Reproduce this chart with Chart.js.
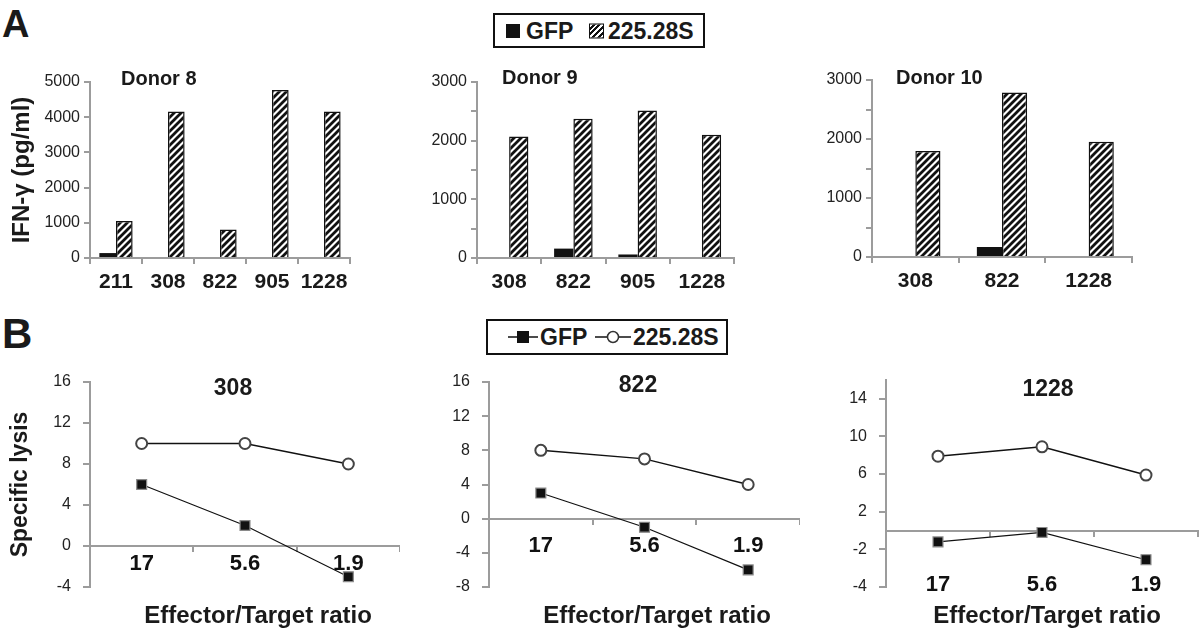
<!DOCTYPE html>
<html>
<head>
<meta charset="utf-8">
<script src="https://cdn.jsdelivr.net/npm/chart.js@4.4.0/dist/chart.umd.min.js"></script>
<style>
  html,body{margin:0;padding:0;background:#fff;}
  #wrap{position:relative;width:1200px;height:629px;overflow:hidden;font-family:'Liberation Sans',Arial,Helvetica,sans-serif;color:#1a1a1a;}
  .box{position:absolute;}
  .t{position:absolute;font-weight:bold;white-space:nowrap;line-height:1;}
  .c{transform:translate(-50%,-50%);}
  .l{transform:translateY(-50%);}
  .leg{position:absolute;border:2px solid #111;box-sizing:border-box;background:#fff;}
  .leg span{position:absolute;top:50%;transform:translateY(-50%);font-weight:bold;font-size:23px;line-height:1;}
  .leg svg{display:block;}
</style>
</head>
<body>
<div id="wrap">
  <div class="t l" style="left:2px;top:24px;font-size:38px;">A</div>
  <div class="t l" style="left:2px;top:334px;font-size:42px;">B</div>

  <div class="leg" style="left:493px;top:13px;width:212px;height:35px;">
    <span style="left:11px;width:14px;height:14px;background:#111;"></span>
    <span style="left:31px;">GFP</span>
    <span style="left:94px;width:13px;height:13px;border:1px solid #111;background:repeating-linear-gradient(135deg,#fff 0 2px,#111 2px 4px);"></span>
    <span style="left:113px;">225.28S</span>
  </div>

  <div class="leg" style="left:486px;top:319px;width:242px;height:36px;">
    <span style="left:20px;"><svg width="30" height="14"><line x1="0" y1="7" x2="30" y2="7" stroke="#111" stroke-width="1.5"/><rect x="9" y="1" width="12" height="12" fill="#111"/></svg></span>
    <span style="left:52px;">GFP</span>
    <span style="left:107px;"><svg width="36" height="14"><line x1="0" y1="7" x2="36" y2="7" stroke="#111" stroke-width="1.5"/><circle cx="18" cy="7" r="5.5" fill="#fff" stroke="#333" stroke-width="1.5"/></svg></span>
    <span style="left:145px;">225.28S</span>
  </div>

  <div class="box" style="left:0;top:0;width:360px;height:300px;"><canvas id="d8"></canvas></div>
  <div class="box" style="left:400px;top:0;width:340px;height:300px;"><canvas id="d9"></canvas></div>
  <div class="box" style="left:800px;top:0;width:340px;height:300px;"><canvas id="d10"></canvas></div>
  <div class="box" style="left:0;top:300px;width:400px;height:329px;"><canvas id="l308"></canvas></div>
  <div class="box" style="left:400px;top:300px;width:400px;height:329px;"><canvas id="l822"></canvas></div>
  <div class="box" style="left:800px;top:300px;width:400px;height:329px;"><canvas id="l1228"></canvas></div>

  <div class="t l" style="left:121px;top:78px;font-size:20px;">Donor 8</div>
  <div class="t l" style="left:502px;top:77px;font-size:20px;">Donor 9</div>
  <div class="t l" style="left:896px;top:77px;font-size:20px;">Donor 10</div>

  <div class="t c" style="left:233px;top:387px;font-size:23px;">308</div>
  <div class="t c" style="left:638px;top:384px;font-size:23px;">822</div>
  <div class="t c" style="left:1048px;top:388px;font-size:23px;">1228</div>

  <div class="t c" style="left:258px;top:615px;font-size:24px;">Effector/Target ratio</div>
  <div class="t c" style="left:657px;top:615px;font-size:24px;">Effector/Target ratio</div>
  <div class="t c" style="left:1047px;top:615px;font-size:24px;">Effector/Target ratio</div>
</div>
<script>
// data (A: IFN-gamma pg/ml, B: specific lysis %)
const donor8Labels = ['211','308','822','905','1228'];
const donor8Gfp    = [140, 0, 0, 0, 0];
const donor8S      = [1050, 4160, 810, 4770, 4160];

const donor9Labels = ['308','822','905','1228'];
const donor9Gfp    = [0, 160, 60, 0];
const donor9S      = [2070, 2375, 2515, 2100];

const donor10Labels = ['308','822','1228'];
const donor10Gfp    = [0, 170, 0];
const donor10S      = [1795, 2790, 1955];

const ratioLabels = ['17','5.6','1.9'];
const lysis308Gfp  = [6, 2, -3];
const lysis308S    = [10, 10, 8];
const lysis822Gfp  = [3, -1, -6];
const lysis822S    = [8, 7, 4];
const lysis1228Gfp = [-1.2, -0.2, -3.1];
const lysis1228S   = [7.9, 8.9, 5.9];
// 1228 panel: tick values and the labels printed at them (bottom one reads -4 in the original)
const ticks1228     = [-6, -2, 2, 6, 10, 14];
const tickText1228  = ['-4', '-2', '2', '6', '10', '14'];

Chart.defaults.font.family = "'Liberation Sans', Arial, Helvetica, sans-serif";
Chart.defaults.color = '#1a1a1a';
const AXIS = '#9c9c9c';

function hatch(){
  const c = document.createElement('canvas'); c.width = c.height = 7;
  const g = c.getContext('2d');
  g.fillStyle = '#fff'; g.fillRect(0,0,7,7);
  g.strokeStyle = '#111'; g.lineWidth = 2.8; g.lineCap = 'square';
  g.beginPath();
  g.moveTo(-1,8); g.lineTo(8,-1);
  g.moveTo(-4,4); g.lineTo(4,-4);
  g.moveTo(3,11); g.lineTo(11,3);
  g.stroke();
  return g.createPattern(c,'repeat');
}

function noSidePad(sc){ sc.paddingLeft = 0; sc.paddingRight = 0; }

function barChart(id, labels, gfp, s, cfg){
  new Chart(document.getElementById(id), {
    type:'bar',
    data:{labels, datasets:[
      {label:'GFP', data:gfp, backgroundColor:'#111', borderWidth:0, categoryPercentage:cfg.cat, barPercentage:1},
      {label:'225.28S', data:s, backgroundColor:hatch(), borderColor:'#111', borderWidth:1.5, categoryPercentage:cfg.cat, barPercentage:1}
    ]},
    options:{
      responsive:true, maintainAspectRatio:false, animation:false,
      layout:{autoPadding:false, padding:{top:cfg.top, right:cfg.right, left:0, bottom:0}},
      plugins:{legend:{display:false}, tooltip:{enabled:false}},
      scales:{
        x:{
          grid:{offset:true, drawOnChartArea:false, color:AXIS, lineWidth:2, tickLength:6},
          border:{color:AXIS, width:2},
          ticks:{font:{size:21, weight:'bold'}, color:'#1a1a1a', padding:6, maxRotation:0},
          afterFit:sc=>{ sc.height = cfg.xh; noSidePad(sc); }
        },
        y:{
          min:0, max:cfg.max,
          grid:{drawOnChartArea:false, color:AXIS, lineWidth:2, tickLength:6},
          border:{color:AXIS, width:2},
          ticks:{stepSize:cfg.step, font:{size:16}, color:'#222', padding:4,
                 callback:v => v % 1000 === 0 ? v : ''},
          title:{display:!!cfg.title, text:cfg.title, font:{size:24, weight:'bold'}, color:'#1a1a1a', padding:{top:8,bottom:0}},
          afterFit:sc=>{ sc.width = cfg.yw; }
        }
      }
    }
  });
}

function lineChart(id, labels, gfp, s, cfg){
  const y = {
    min:cfg.min, max:cfg.max,
    grid:{drawOnChartArea:false, color:AXIS, lineWidth:2, tickLength:7},
    border:{color:AXIS, width:2},
    ticks:{stepSize:4, font:{size:16}, color:'#222', padding:cfg.tpad},
    title:{display:!!cfg.title, text:cfg.title, font:{size:23, weight:'bold'}, color:'#1a1a1a', padding:{top:7,bottom:0}},
    afterFit:sc=>{ sc.width = cfg.yw; }
  };
  if (cfg.ticks) {
    y.afterBuildTicks = sc => { sc.ticks = cfg.ticks.map(v => ({value:v})); };
    y.ticks.callback = (v, i) => cfg.tickText[i];
  }
  new Chart(document.getElementById(id), {
    type:'line',
    data:{labels, datasets:[
      {label:'GFP', data:gfp, borderColor:'#111', borderWidth:1.2,
       pointStyle:'rect', pointRadius:7, pointBackgroundColor:'#111', pointBorderColor:'#8a8a8a', pointBorderWidth:1.2},
      {label:'225.28S', data:s, borderColor:'#111', borderWidth:1.5,
       pointStyle:'circle', pointRadius:5.5, pointBackgroundColor:'#fff', pointBorderColor:'#444', pointBorderWidth:2}
    ]},
    options:{
      responsive:true, maintainAspectRatio:false, animation:false,
      layout:{autoPadding:false, padding:{top:cfg.top, right:cfg.right, left:0, bottom:cfg.bottom}},
      plugins:{legend:{display:false}, tooltip:{enabled:false}},
      scales:{
        x:{
          position:{y:0}, offset:true,
          grid:{offset:true, drawOnChartArea:false, color:AXIS, lineWidth:2, tickLength:5},
          border:{color:AXIS, width:2},
          ticks:{font:{size:22, weight:'bold'}, color:'#111', padding:cfg.xpad, maxRotation:0},
          afterFit:noSidePad
        },
        y
      }
    }
  });
}

barChart('d8',  donor8Labels,  donor8Gfp,  donor8S,  {max:5000, step:1000, cat:0.64, top:82, right:10, xh:42, yw:90, title:'IFN-\u03b3 (pg/ml)'});
barChart('d9',  donor9Labels,  donor9Gfp,  donor9S,  {max:3000, step:500,  cat:0.6,  top:82, right:6,  xh:42, yw:77});
barChart('d10', donor10Labels, donor10Gfp, donor10S, {max:3000, step:500,  cat:0.58, top:80, right:8,  xh:43, yw:72});

lineChart('l308',  ratioLabels, lysis308Gfp,  lysis308S,  {min:-4, max:16, top:82, right:0, bottom:42, yw:90, tpad:12, xpad:0, title:'Specific lysis'});
lineChart('l822',  ratioLabels, lysis822Gfp,  lysis822S,  {min:-8, max:16, top:82, right:0, bottom:42, yw:89, tpad:12, xpad:9});
lineChart('l1228', ratioLabels, lysis1228Gfp, lysis1228S, {min:-6, max:16, top:80, right:2, bottom:42, yw:86, tpad:12, xpad:36, ticks:ticks1228, tickText:tickText1228});
</script>
</body>
</html>
